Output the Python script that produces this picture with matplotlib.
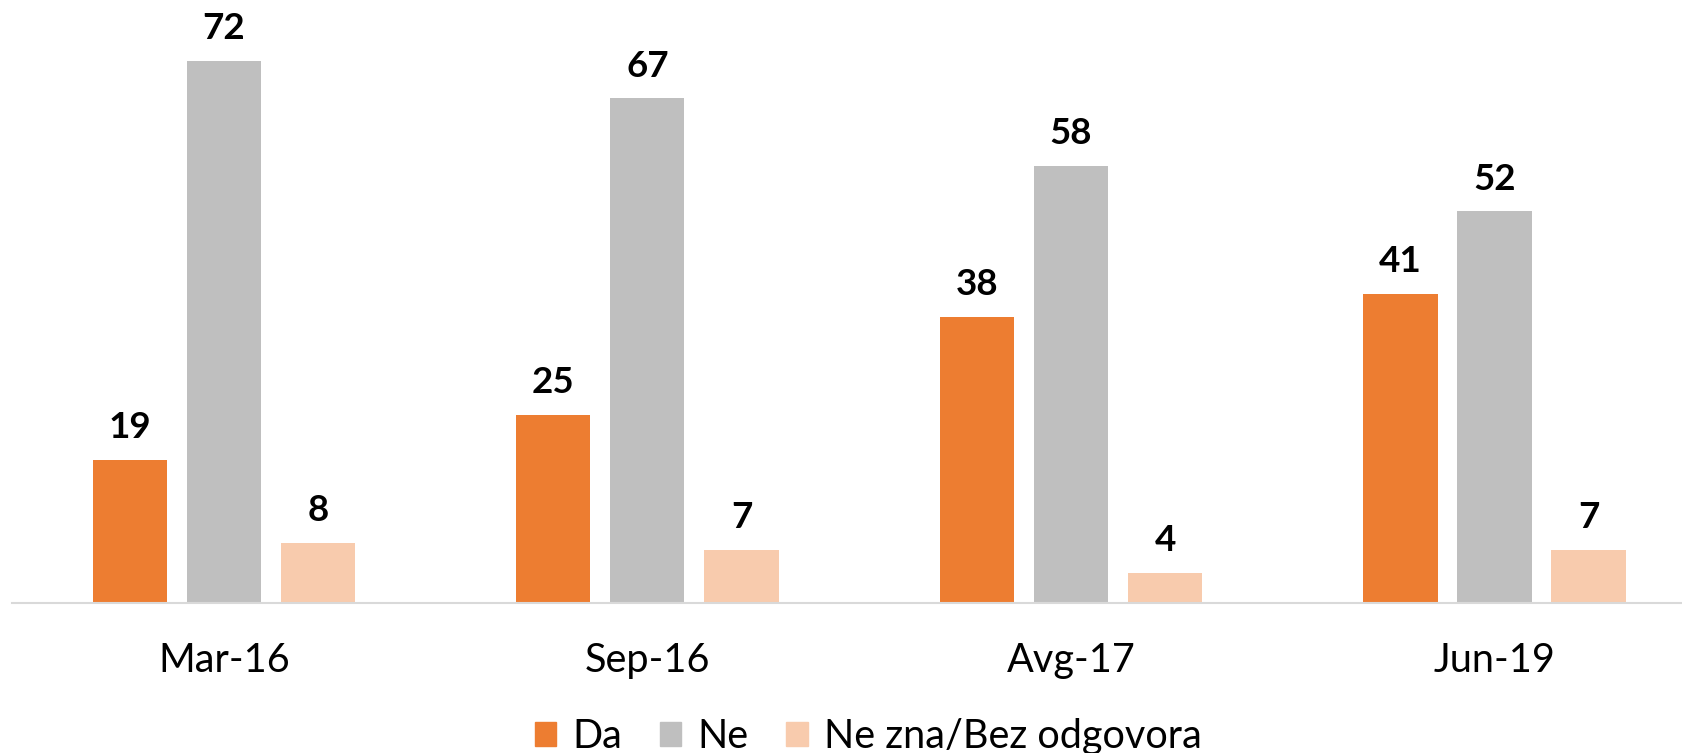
import numpy as np
import matplotlib
matplotlib.use('Agg')
import matplotlib.pyplot as plt
from matplotlib.patches import Patch

# Data
categories = ['Mar-16', 'Sep-16', 'Avg-17', 'Jun-19']
da = [19, 25, 38, 41]
ne = [72, 67, 58, 52]
ne_zna = [8, 7, 4, 7]
series_names = ['Da', 'Ne', 'Ne zna/Bez odgovora']
colors = ['#ED7D31', '#BFBFBF', '#F8CBAD']

plt.rcParams['font.family'] = ['Lato', 'DejaVu Sans']

fig = plt.figure(figsize=(16.83, 7.53), dpi=100)
ax = fig.add_axes([0.0072, 0.1992, 0.9928, 0.8])

x = np.arange(len(categories))
width = 0.175
offset = 0.222

for i, (vals, col) in enumerate(zip([da, ne, ne_zna], colors)):
    pos = x + (i - 1) * offset
    ax.bar(pos, vals, width=width, color=col, zorder=2)
    for p, v in zip(pos, vals):
        ax.text(p, v + 2.1, str(v), ha='center', va='bottom',
                fontsize=26.5, fontweight='bold', color='black')

ax.set_xlim(-0.5, 3.445)
ax.set_ylim(0, 80)
ax.set_yticks([])
ax.set_xticks(x)
ax.set_xticklabels(categories, fontsize=28.5)
ax.tick_params(axis='x', length=0, pad=28)
for s in ['top', 'right', 'left']:
    ax.spines[s].set_visible(False)
ax.spines['bottom'].set_color('#D9D9D9')
ax.spines['bottom'].set_linewidth(1.5)

handles = [Patch(color=c, label=n) for c, n in zip(colors, series_names)]
fig.legend(handles=handles, loc='center', bbox_to_anchor=(868 / 1683, 0.022),
           ncol=3, frameon=False, fontsize=28.5, handlelength=0.55, handleheight=0.55,
           handletextpad=0.4, columnspacing=0.95)

fig.savefig('out.png', dpi=100)
